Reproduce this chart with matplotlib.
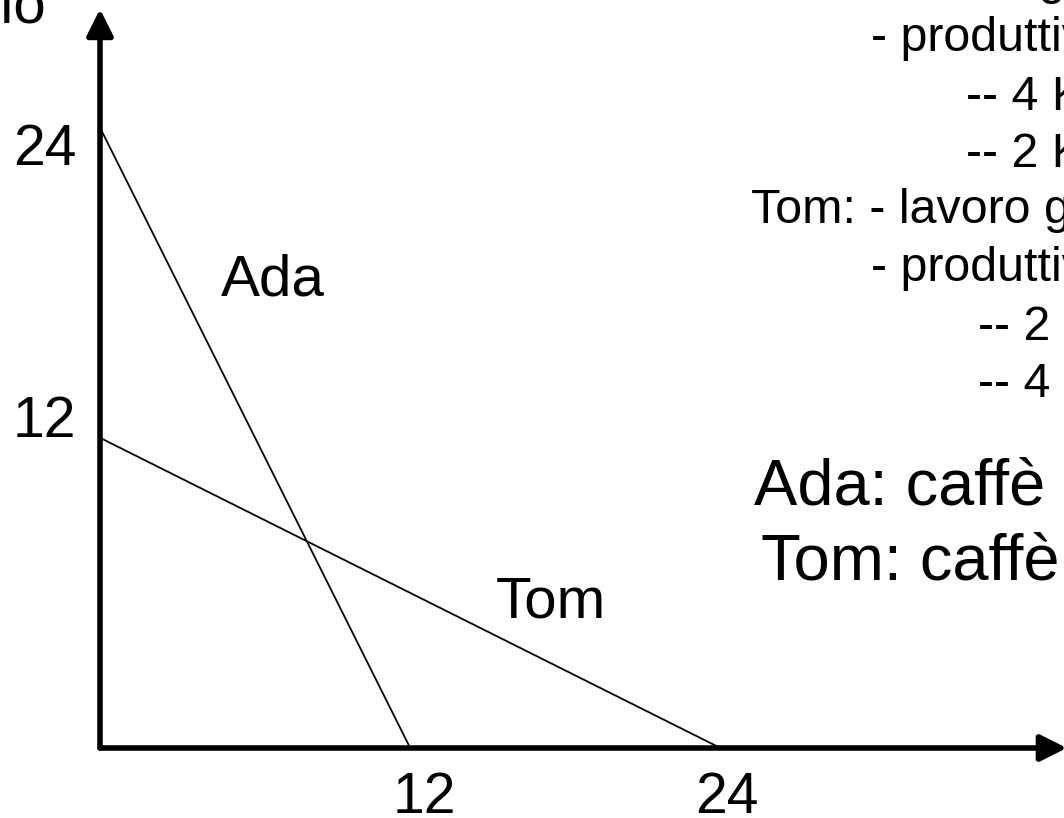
import matplotlib
matplotlib.use("Agg")
import matplotlib.pyplot as plt

plt.rcParams["font.family"] = ["Liberation Sans", "DejaVu Sans"]

# Production possibility frontiers (x = caffè, y = formaggio)
ada_x = [0, 12]
ada_y = [24, 0]
tom_x = [0, 24]
tom_y = [12, 0]

xtick_vals = [12, 24]
ytick_vals = [24, 12]

# Slide text on the right
info_lines = [
    "Ada: - lavoro giornaliero 6 ore",
    "- produttività oraria:",
    "-- 4 Kg formaggio",
    "-- 2 Kg caffè",
    "Tom: - lavoro giornaliero 6 ore",
    "- produttività oraria:",
    "-- 2 Kg formaggio",
    "-- 4 Kg caffè",
]
cost_lines = ["Ada: caffè = 2 formaggio", "Tom: caffè = 1/2 formaggio"]

W, H = 1064, 818
fig = plt.figure(figsize=(W / 100, H / 100), dpi=100)

# axes origin at pixel (100, 748), same px per unit on both axes
scale = 25.85
ox, oy = 100, 748
ax = fig.add_axes([ox / W, (H - oy) / H, (W - ox) / W, oy / H])
ax.set_xlim(0, (W - ox) / scale)
ax.set_ylim(0, oy / scale)
ax.axis("off")


def px(x, y):
    # pixel position (from top-left) -> figure fraction
    return x / W, 1 - y / H


# axes with arrows
arrow = dict(arrowstyle="-|>,head_length=1.6,head_width=0.8", lw=4, color="black",
             mutation_scale=10, shrinkA=0, shrinkB=0)
ax.annotate("", xy=(0, (oy - 9) / oy), xytext=(0, 0), xycoords="axes fraction",
            arrowprops=arrow, annotation_clip=False)
ax.annotate("", xy=(1.003, 0), xytext=(0, 0), xycoords="axes fraction",
            arrowprops=arrow, annotation_clip=False)

# frontiers
ax.plot(ada_x, ada_y, color="black", lw=1.3, clip_on=False)
ax.plot(tom_x, tom_y, color="black", lw=1.3, clip_on=False)

# tick labels
for v, dx in zip(xtick_vals, [14, 6]):
    ax.annotate(str(v), xy=(v, 0), xytext=(dx, -65), textcoords="offset pixels",
                ha="center", va="baseline", fontsize=41)
for v, dy in zip(ytick_vals, [-37, 1]):
    ax.annotate(str(v), xy=(0, v), xytext=(-24, dy), textcoords="offset pixels",
                ha="right", va="baseline", fontsize=41)

# curve labels
fig.text(*px(221, 295), "Ada", fontsize=42, va="baseline", ha="left")
fig.text(*px(496, 618), "Tom", fontsize=42, va="baseline", ha="left")

# y axis title (cut by the slide crop)
fig.text(*px(46, 23), "formaggio", fontsize=42, va="baseline", ha="right")

# right-hand text block
info_x = [751, 871, 966, 966, 751, 871, 978, 978]
info_y = [-6, 51, 110, 167, 223, 281, 340, 397]
for t, x, y in zip(info_lines, info_x, info_y):
    fig.text(*px(x, y), t, fontsize=34.8, va="baseline", ha="left")

for t, x, y in zip(cost_lines, [754, 761], [505, 580]):
    fig.text(*px(x, y), t, fontsize=46.8, va="baseline", ha="left")

fig.savefig("out.png", dpi=100, facecolor="white")
